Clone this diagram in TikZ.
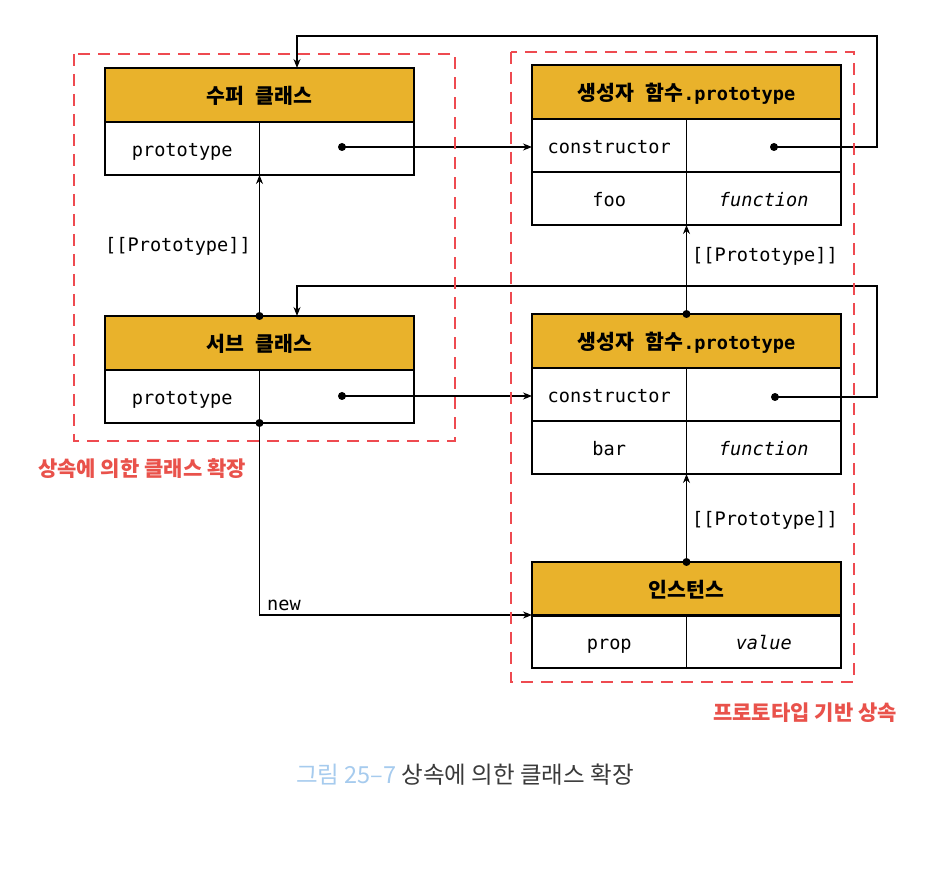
\documentclass[tikz,border=0pt]{standalone}
\usepackage{fontspec}
\setmainfont{DejaVu Sans Mono}
\newfontfamily\kr{Noto Sans CJK KR}
\newfontfamily\mono{DejaVu Sans Mono}
\usetikzlibrary{arrows.meta}
\definecolor{hdr}{HTML}{E9B22B}
\definecolor{redd}{HTML}{EE4A50}
\definecolor{redt}{HTML}{E9524B}
\definecolor{capblue}{HTML}{A6CBEE}
\definecolor{capgray}{HTML}{3A3A3A}
\newcommand{\krh}[1]{{\kr\fontsize{20.5}{22}\selectfont #1}}
\begin{document}
\begin{tikzpicture}[x=1pt,y=-1pt,
  cell/.style={draw=black, line width=1.3pt, minimum height=53pt, inner sep=0pt, outer sep=0pt, anchor=north west, text height=20pt, text depth=4pt, font=\mono\fontsize{18.6}{20}\selectfont},
  hdrcell/.style={cell, fill=hdr, minimum width=309pt, minimum height=54pt, text height=21pt, font=\mono\bfseries\fontsize{18.6}{20}\selectfont},
  halfL/.style={cell, minimum width=154.5pt},
  halfR/.style={cell, minimum width=154.5pt},
  conn/.style={draw=black, line width=1.1pt},
  arr/.style={conn, -{Stealth[length=9pt,width=7pt]}},
  dashbox/.style={draw=redd, line width=2.8pt, dash pattern=on 12pt off 8pt},
  dot/.style={circle, fill=black, inner sep=0pt, minimum size=8pt},
  lbl/.style={font=\mono\fontsize{18.6}{20}\selectfont, inner sep=0pt},
  grp/.style={font=\kr\bfseries\fontsize{21}{24}\selectfont, text=redt, inner sep=0pt},
]
\useasboundingbox (0,0) rectangle (946,874);
\fill[white] (0,0) rectangle (946,874);

% super class
\node[hdrcell] (sup) at (105,68) {\krh{수퍼} \krh{클래스}};
\node[halfL] (supL) at (105,122) {prototype};
\node[halfR] (supR) at (259.5,122) {};
% sub class
\node[hdrcell] (sub) at (105,316) {\krh{서브} \krh{클래스}};
\node[halfL] (subL) at (105,370) {prototype};
\node[halfR] (subR) at (259.5,370) {};
% prototype 1
\node[hdrcell] (p1) at (532,65) {\krh{생성자} \krh{함수}.prototype};
\node[halfL] (p1aL) at (532,119) {constructor};
\node[halfR] (p1aR) at (686.5,119) {};
\node[halfL] (p1bL) at (532,172) {foo};
\node[halfR] (p1bR) at (686.5,172) {\itshape function};
% prototype 2
\node[hdrcell] (p2) at (532,314) {\krh{생성자} \krh{함수}.prototype};
\node[halfL] (p2aL) at (532,368) {constructor};
\node[halfR] (p2aR) at (686.5,368) {};
\node[halfL] (p2bL) at (532,421) {bar};
\node[halfR] (p2bR) at (686.5,421) {\itshape function};
% instance
\node[hdrcell] (ins) at (532,562) {\krh{인스턴스}};
\node[halfL] (insL) at (532,615) {prop};
\node[halfR] (insR) at (686.5,615) {\itshape value};

% dots
\node[dot] (d1) at (342,147) {};
\node[dot] (d2) at (342,396) {};
\node[dot] (d3) at (774,147) {};
\node[dot] (d4) at (775,397) {};
\node[dot] (ds) at (sub.north) {};
\node[dot] (dn) at (subL.south east) {};
\node[dot] (dp2) at (p2.north) {};
\node[dot] (di) at (ins.north) {};

\coordinate (c1) at (877,36);
\coordinate (c2) at (877,286);

% connectors
\draw[arr] (d1.center) -- (d1.center -| p1aL.west);
\draw[arr] (d2.center) -- (d2.center -| p2aL.west);
\draw[arr] (ds.center) -- (ds.center |- supL.south);
\draw[arr] (dp2.center) -- (dp2.center |- p1bL.south);
\draw[arr] (di.center) -- (di.center |- p2bL.south);
\draw[arr] (d3.center) -| (c1) -| ([xshift=37.5pt]sup.north);
\draw[arr] (d4.center) -| (c2) -| ([xshift=37.5pt]sub.north);
\draw[arr] (dn.center) |- (insL.north west);

% labels
\node[lbl, anchor=east] (lp1) at (251,246) {[[Prototype]]};
\node[lbl, anchor=west] (lp2) at (692,256) {[[Prototype]]};
\node[lbl, anchor=west] (lp3) at (692,520) {[[Prototype]]};
\node[lbl, anchor=base west] (lnew) at (267,610) {new};

% dashed groups
\draw[dashbox] (74,54) rectangle (455,441);
\draw[dashbox] (511,52) rectangle (854,682);

\node[grp, anchor=west] (g1) at (38,469) {상속에 의한 클래스 확장};
\node[grp, anchor=east] (g2) at (897,713) {프로토타입 기반 상속};

% caption
\node[font=\kr\fontsize{23.5}{26}\selectfont, anchor=west, inner sep=0pt] (cap) at (296,775) {\textcolor{capblue}{그림 25–7} \textcolor{capgray}{상속에 의한 클래스 확장}};
\end{tikzpicture}
\end{document}
